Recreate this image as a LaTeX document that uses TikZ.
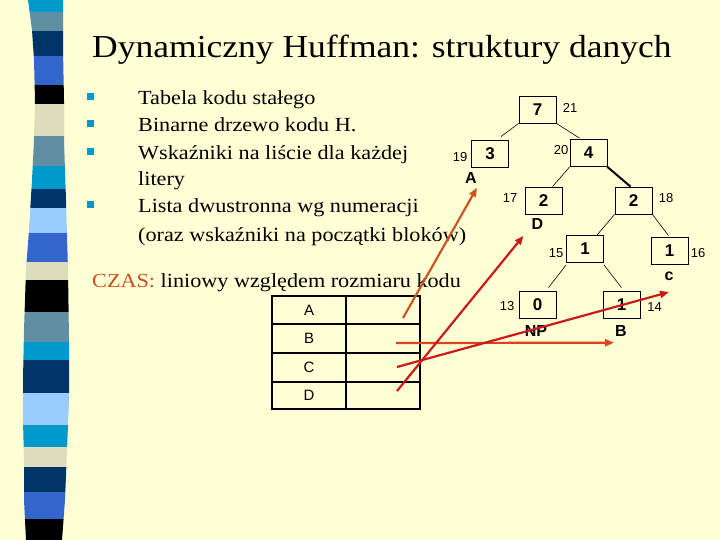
\documentclass[tikz,border=0pt]{standalone}
\usepackage{fontspec}
\setmainfont[FakeStretch=1.11]{Liberation Serif}
\setsansfont{Liberation Sans}
\usetikzlibrary{arrows.meta}
\usepackage{xcolor}

\definecolor{slidebg}{RGB}{255,255,214}
\definecolor{stcyan}{RGB}{0,153,204}
\definecolor{ststeel}{RGB}{95,143,163}
\definecolor{stnavy}{RGB}{0,51,102}
\definecolor{stroyal}{RGB}{51,102,204}
\definecolor{stbeige}{RGB}{221,221,187}
\definecolor{stlight}{RGB}{153,204,255}
\definecolor{ptrA}{RGB}{204,85,34}
\definecolor{ptrB}{RGB}{224,64,26}
\definecolor{ptrC}{RGB}{204,26,26}
\definecolor{czasc}{RGB}{196,80,30}

\tikzset{
  tbox/.style={draw, line width=0.8pt, minimum width=37pt, minimum height=27pt, inner sep=0pt,
    font=\sffamily\bfseries\fontsize{17}{17}\selectfont},
  num/.style={font=\sffamily\fontsize{13}{13}\selectfont, inner sep=0pt},
  leaf/.style={font=\sffamily\bfseries\fontsize{16}{16}\selectfont, inner sep=0pt},
  edge/.style={line width=0.6pt},
  ptr/.style={line width=2.2pt, -{Triangle[length=9pt,width=7pt]}},
  item/.style={anchor=base west, inner sep=0pt, font=\fontsize{20}{20}\selectfont},
  sq/.style={fill=stcyan, minimum size=7pt, inner sep=0pt},
  cell/.style={font=\sffamily\fontsize{15}{15}\selectfont, inner sep=0pt},
}

\begin{document}
\begin{tikzpicture}[x=1pt, y=-1pt]

% ---- slide background ----
\useasboundingbox (0,0) rectangle (720,540);
\fill[slidebg] (0,0) rectangle (720,540);

% ---- striped bar on the left ----
\begin{scope}
\clip (28,0) -- (32,30) -- (34,60) -- (35,100) -- (34,140) -- (32,180) -- (29,230)
  -- (26,270) -- (24,330) -- (23,380) -- (23,420) -- (24,460) -- (24,500) -- (26,540)
  -- (62,540) -- (65,500) -- (67,450) -- (69,400) -- (69,340) -- (68,270) -- (66,200)
  -- (64,140) -- (64,100) -- (63,50) -- (63,0) -- cycle;
\foreach \ya/\yb/\col in {0/12/stcyan, 12/31/ststeel, 31/56/stnavy, 56/85/stroyal,
    85/104/black, 104/136/stbeige, 136/166/ststeel, 166/189/stcyan, 189/208/stnavy,
    208/233/stlight, 233/262/stroyal, 262/280/stbeige, 280/312/black, 312/342/ststeel,
    342/360/stcyan, 360/393/stnavy, 393/425/stlight, 425/447/stcyan, 447/467/stbeige,
    467/492/stnavy, 492/519/stroyal, 519/540/black} {
  \fill[\col] (0,\ya) rectangle (100,\yb);
}
\end{scope}

% ---- title and bullet list ----
\node[anchor=base west, inner sep=0pt, font=\fontsize{32}{32}\selectfont] (title) at (92,58)
  {Dynamiczny Huffman: struktury danych};

\node[sq] (s1) at (90,97) {};
\node[sq] (s2) at (90,124) {};
\node[sq] (s3) at (90,152) {};
\node[sq] (s4) at (90,205) {};
\node[item] (b1) at (138,105) {Tabela kodu stałego};
\node[item] (b2) at (138,132) {Binarne drzewo kodu H.};
\node[item] (b3) at (138,160) {Wskaźniki na liście dla każdej};
\node[item] (b3x) at (138,186) {litery};
\node[item] (b4) at (138,213) {Lista dwustronna wg numeracji};
\node[item] (b4x) at (138,241) {(oraz wskaźniki na początki bloków)};

\node[item] (czas) at (92,287) {\textcolor{czasc}{CZAS:} liniowy względem rozmiaru kodu};

% ---- table of leaf pointers ----
\draw[line width=2.2pt] (272,296) rectangle (420,409);
\draw[line width=2.2pt] (346,296) -- (346,409);
\foreach \y in {324,353,382} {
  \draw[line width=2.2pt] (272,\y) -- (420,\y);
}
\foreach \l/\y in {A/310,B/338.5,C/367.5,D/395.5} {
  \node[cell] (t\l) at (309,\y) {\l};
}
\coordinate (pA) at (403,318);
\coordinate (pB) at (396,343);
\coordinate (pC) at (397,367);
\coordinate (pD) at (397,391);

% ---- Huffman tree ----
\node[tbox] (n7)  at (537.5,109.5) {7};
\node[tbox] (n3)  at (490,153.5)   {3};
\node[tbox] (n4)  at (588.5,153)   {4};
\node[tbox] (n2d) at (543.5,200.5) {2};
\node[tbox] (n2r) at (633.5,200.5) {2};
\node[tbox] (n1l) at (585,249)     {1};
\node[tbox] (n1r) at (669.5,250.5) {1};
\node[tbox] (n0)  at (537.5,304.5) {0};
\node[tbox] (n1b) at (621.5,304.5) {1};

\node[num] (w21) at (570,107.5) {21};
\node[num] (w19) at (460,157)   {19};
\node[num] (w20) at (561,150.5) {20};
\node[num] (w17) at (510,198.5) {17};
\node[num] (w18) at (666,198.5) {18};
\node[num] (w15) at (556,253.5) {15};
\node[num] (w16) at (698,253)   {16};
\node[num] (w13) at (507,306)   {13};
\node[num] (w14) at (654.5,307) {14};

\node[leaf] (lA)  at (471,178)   {A};
\node[leaf] (lD)  at (537.5,224) {D};
\node[leaf] (lC)  at (669,276.5) {c};
\node[leaf] (lNP) at (536,331)   {NP};
\node[leaf] (lB)  at (621,331)   {B};

\draw[edge] (n7.south west) -- ([xshift=11pt,yshift=3pt]n3.north);
\draw[edge] (n7.south east) -- ([xshift=-9pt,yshift=1pt]n4.north);
\draw[edge] (n4.south west) -- ([xshift=9pt]n2d.north);
\draw[line width=2pt] (n4.south east) -- ([xshift=-3pt]n2r.north);
\draw[edge] (n2r.south west) -- ([xshift=12pt]n1l.north);
\draw[edge] (n2r.south east) -- ([xshift=-1pt,yshift=1pt]n1r.north);
\draw[edge] ([yshift=-2pt]n1l.south west) -- ([xshift=11pt,yshift=3pt]n0.north);
\draw[edge] ([yshift=-2pt]n1l.south east) -- ([yshift=3pt]n1b.north);

% ---- pointers from table to leaves ----
\draw[ptr, ptrA] (pA) -- ([shift={(0pt,-4pt)}]lA.south east);
\draw[ptr, ptrB] (pB) -- ([shift={(-1pt,-6pt)}]lB.south west);
\draw[ptr, ptrC] (pC) -- ([shift={(0pt,-11pt)}]lC.south);
\draw[ptr, ptrC] (pD) -- ([shift={(-8pt,-6pt)}]lD.south west);

\end{tikzpicture}
\end{document}
